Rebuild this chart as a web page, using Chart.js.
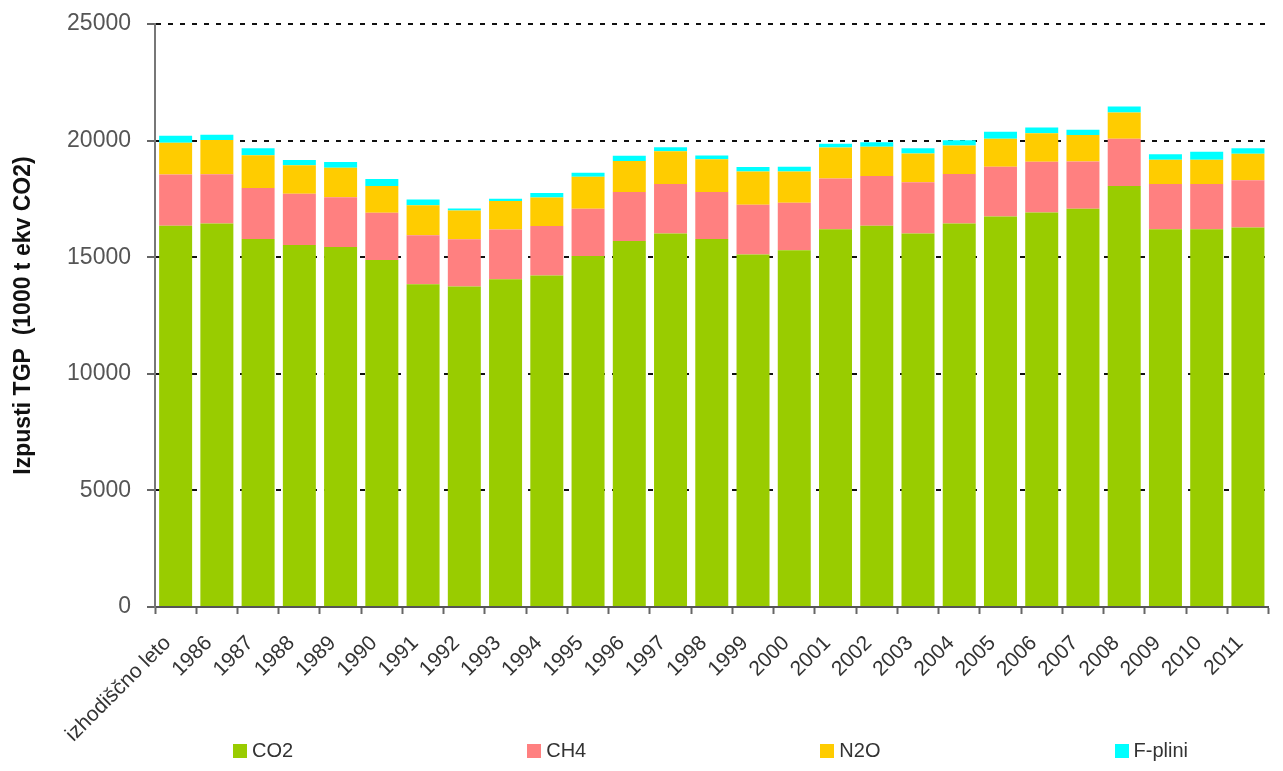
<!DOCTYPE html>
<html>
<head>
<meta charset="utf-8">
<script src="https://cdn.jsdelivr.net/npm/chart.js@4"></script>
<style>
  body { margin: 0; background: #fff; }
  #wrap { position: relative; width: 1283px; height: 771px; }
  #legend {
    position: absolute; left: 233px; width: 955px; top: 739px;
    display: flex; justify-content: space-between;
    font-family: "Liberation Sans", Arial, sans-serif; font-size: 20px; color: #333;
  }
  #legend span.item { display: flex; align-items: center; }
  #legend span.box { width: 14px; height: 14px; margin-right: 5px; display: inline-block; }
</style>
</head>
<body>
<div id="wrap">
  <canvas id="chart" width="1283" height="771"></canvas>
  <div id="legend"></div>
</div>
<script>
const categories = ["izhodiščno leto", "1986", "1987", "1988", "1989", "1990", "1991", "1992", "1993", "1994",
  "1995", "1996", "1997", "1998", "1999", "2000", "2001", "2002", "2003", "2004", "2005", "2006",
  "2007", "2008", "2009", "2010", "2011"];

const co2 = [16350, 16440, 15780, 15520, 15440, 14880, 13840, 13740, 14050, 14220, 15050, 15700, 16020,
  15780, 15120, 15300, 16200, 16350, 16020, 16440, 16740, 16920, 17080, 18050, 16200, 16200, 16270];
const ch4 = [2200, 2120, 2190, 2200, 2130, 2030, 2100, 2030, 2140, 2120, 2030, 2100, 2120,
  2020, 2130, 2040, 2170, 2130, 2190, 2130, 2140, 2170, 2020, 2030, 1940, 1940, 2030];
const n2o = [1360, 1470, 1400, 1220, 1270, 1140, 1290, 1230, 1220, 1220, 1370, 1320, 1400,
  1400, 1430, 1340, 1330, 1260, 1240, 1220, 1200, 1220, 1140, 1130, 1040, 1040, 1140];
const fgas = [300, 220, 300, 230, 240, 300, 240, 90, 100, 190, 170, 230, 170,
  160, 190, 200, 170, 190, 220, 220, 300, 250, 230, 250, 230, 340, 230];

const yTicks = [0, 5000, 10000, 15000, 20000, 25000];
const yTitle = "Izpusti TGP  (1000 t ekv CO2)";

const font = "'Liberation Sans', Arial, sans-serif";

function series(label, data, color) {
  return { label, data, backgroundColor: color, borderWidth: 0, barPercentage: 0.8, categoryPercentage: 1.0 };
}

const chart = new Chart(document.getElementById("chart"), {
  type: "bar",
  data: {
    labels: categories,
    datasets: [
      series("CO2", co2, "#99cc00"),
      series("CH4", ch4, "#ff8080"),
      series("N2O", n2o, "#ffcc00"),
      series("F-plini", fgas, "#00ffff"),
    ],
  },
  options: {
    responsive: false,
    animation: false,
    layout: { padding: { left: 0, right: 13, top: 24, bottom: 0 } },
    plugins: { legend: { display: false }, tooltip: { enabled: false } },
    scales: {
      x: {
        stacked: true,
        afterFit: (s) => { s.height = 164; },
        grid: { display: true, drawOnChartArea: false, tickLength: 7, color: "#666", tickColor: "#666", tickWidth: 2 },
        border: { display: true, color: "#555", width: 2 },
        ticks: {
          autoSkip: false, minRotation: 45, maxRotation: 45, padding: 17, labelOffset: -8,
          color: "#333", font: { family: font, size: 21 },
        },
      },
      y: {
        stacked: true,
        min: 0,
        max: 25000,
        afterFit: (s) => { s.width = 155; },
        afterBuildTicks: (s) => { s.ticks = yTicks.map((v) => ({ value: v })); },
        grid: {
          color: (c) => (c.tick && c.tick.value === 0 ? "rgba(0,0,0,0)" : "#111"),
          lineWidth: 2, tickLength: 8, tickColor: "#666", tickWidth: 2, tickBorderDash: [],
        },
        border: { display: true, color: "#777", width: 2, dash: [5, 7] },
        ticks: {
          color: "#555", padding: 16, font: { family: font, size: 23, lineHeight: 0.6 },
          callback: (v) => String(v),
        },
        title: {
          display: true, text: yTitle, color: "#111",
          padding: { top: 10, bottom: 0 },
          font: { family: font, size: 23, weight: "bold" },
        },
      },
    },
  },
});

document.getElementById("legend").innerHTML = chart.data.datasets
  .map((d) => `<span class="item"><span class="box" style="background:${d.backgroundColor}"></span>${d.label}</span>`)
  .join("");
</script>
</body>
</html>
